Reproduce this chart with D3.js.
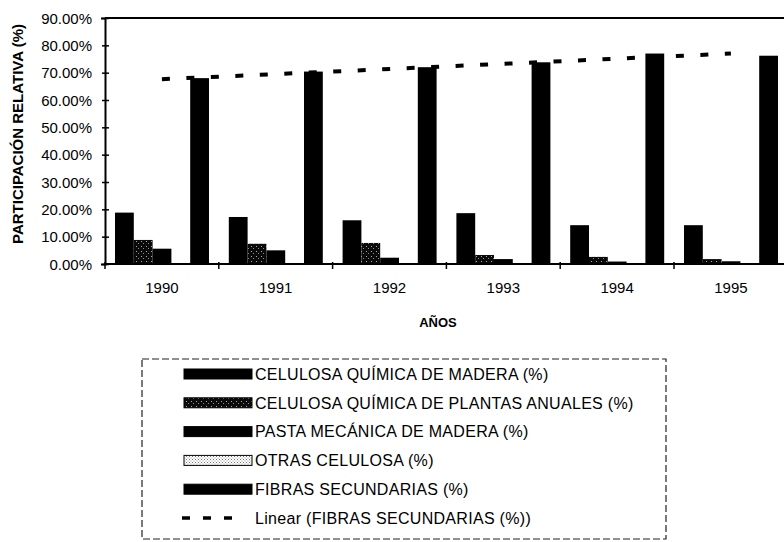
<!DOCTYPE html>
<html>
<head>
<meta charset="utf-8">
<script src="https://cdn.jsdelivr.net/npm/d3@7"></script>
<style>
  body { margin: 0; background: #fff; }
  svg { display: block; font-family: Arial, "Liberation Sans", sans-serif; }
</style>
</head>
<body>
<div id="chart"></div>
<script>
// data (percent)
const years = ['1990', '1991', '1992', '1993', '1994', '1995']
const celulosaMadera = [18.8, 17.2, 16.0, 18.6, 14.2, 14.2]
const celulosaAnuales = [8.8, 7.4, 7.7, 3.3, 2.6, 1.8]
const pastaMecanica = [5.6, 5.0, 2.3, 1.8, 0.9, 1.0]
const otrasCelulosa = [0.4, 0.4, 0.4, 0.4, 0.4, 0.4]
const fibrasSecundarias = [68.0, 70.4, 72.0, 73.8, 77.0, 76.2]
// linear trend line end points (first and last year)
const trendYears = ['1990', '1995']
const trendValues = [67.6, 77.0]
const yTicks = [0, 10, 20, 30, 40, 50, 60, 70, 80, 90]

const seriesNames = [
   'CELULOSA QUÍMICA DE MADERA (%)',
   'CELULOSA QUÍMICA DE PLANTAS ANUALES (%)',
   'PASTA MECÁNICA DE MADERA (%)',
   'OTRAS CELULOSA (%)',
   'FIBRAS SECUNDARIAS (%)'
]
const trendName = 'Linear (FIBRAS SECUNDARIAS (%))'
const seriesValues = [celulosaMadera, celulosaAnuales, pastaMecanica, otrasCelulosa, fibrasSecundarias]
const seriesFill = ['#000', 'url(#patAnuales)', '#000', 'url(#patOtras)', '#000']

const W = 784, H = 542
const plotLeft = 105, bandW = 113.8, plotTop = 18, plotBottom = 264

const svg = d3.select('#chart').append('svg')
   .attr('width', W)
   .attr('height', H)

// fill patterns
const defs = svg.append('defs')
const p1 = defs.append('pattern').attr('id', 'patAnuales')
   .attr('patternUnits', 'userSpaceOnUse').attr('width', 5).attr('height', 5)
p1.append('rect').attr('width', 5).attr('height', 5).attr('fill', '#0a0a0a')
p1.append('rect').attr('x', 1).attr('y', 1).attr('width', 1).attr('height', 1).attr('fill', '#aaa')
p1.append('rect').attr('x', 3).attr('y', 3).attr('width', 1).attr('height', 1).attr('fill', '#888')
const p2 = defs.append('pattern').attr('id', 'patOtras')
   .attr('patternUnits', 'userSpaceOnUse').attr('width', 3).attr('height', 3)
p2.append('rect').attr('width', 3).attr('height', 3).attr('fill', '#fff')
p2.append('rect').attr('x', 0).attr('y', 0).attr('width', 1).attr('height', 1).attr('fill', '#777')
p2.append('rect').attr('x', 1.5).attr('y', 1.5).attr('width', 1).attr('height', 1).attr('fill', '#999')

// scales
const x0 = d3.scaleBand()
   .domain(years)
   .range([plotLeft, plotLeft + bandW * years.length])
const x1 = d3.scaleBand()
   .domain(d3.range(seriesNames.length))
   .range([10, 104])
const y = d3.scaleLinear()
   .domain([0, 90])
   .range([plotBottom, plotTop])

// bars
seriesValues.forEach((vals, s) => {
   svg.append('g').selectAll('rect')
      .data(vals)
      .enter().append('rect')
         .attr('x', (d, i) => x0(years[i]) + x1(s))
         .attr('y', d => y(d))
         .attr('width', x1.bandwidth())
         .attr('height', d => y(0) - y(d))
         .attr('fill', seriesFill[s])
})

// frame: top border, left and bottom axes
const xEnd = x0.range()[1]
svg.append('line').attr('x1', plotLeft).attr('x2', xEnd)
   .attr('y1', y(90)).attr('y2', y(90)).attr('stroke', '#000').attr('stroke-width', 2)

// left axis with ticks crossing the line
svg.append('g')
   .attr('transform', 'translate(' + plotLeft + ',0)')
   .call(d3.axisLeft(y).tickValues(yTicks).tickSize(4).tickFormat(d => d3.format('.2f')(d) + '%'))
   .call(g => g.select('.domain').attr('stroke-width', 2))
   .call(g => g.selectAll('.tick line').attr('x2', 4).attr('x1', -3).attr('stroke-width', 1.5))
   .call(g => g.selectAll('.tick text')
      .attr('x', -13)
      .attr('dy', '0.35em')
      .style('font-size', '15px')
      .style('font-family', 'Arial, "Liberation Sans", sans-serif')
      .attr('fill', '#000'))

// bottom axis, ticks at band edges
const bottom = svg.append('g')
bottom.append('line').attr('x1', plotLeft).attr('x2', xEnd)
   .attr('y1', y(0)).attr('y2', y(0)).attr('stroke', '#000').attr('stroke-width', 2)
bottom.selectAll('.xt')
   .data(years)
   .enter().append('line')
      .attr('x1', d => x0(d)).attr('x2', d => x0(d))
      .attr('y1', y(0) - 2).attr('y2', y(0) + 5)
      .attr('stroke', '#000').attr('stroke-width', 1.5)
bottom.selectAll('.xl')
   .data(years)
   .enter().append('text')
      .attr('x', d => x0(d) + x0.bandwidth() / 2)
      .attr('y', 293)
      .attr('text-anchor', 'middle')
      .style('font-size', '15px')
      .text(d => d)

// linear trend line
svg.append('line')
   .attr('x1', x0(trendYears[0]) + x0.bandwidth() / 2)
   .attr('x2', x0(trendYears[1]) + x0.bandwidth() / 2)
   .attr('y1', y(trendValues[0]))
   .attr('y2', y(trendValues[1]))
   .attr('stroke', '#000')
   .attr('stroke-width', 4)
   .attr('stroke-dasharray', '8,16.5')

// axis titles
svg.append('text')
   .attr('transform', 'translate(23,134) rotate(-90)')
   .attr('text-anchor', 'middle')
   .style('font-size', '15px')
   .style('font-weight', 'bold')
   .text('PARTICIPACIÓN RELATIVA (%)')

svg.append('text')
   .attr('x', 438)
   .attr('y', 327)
   .attr('text-anchor', 'middle')
   .style('font-size', '13px')
   .style('font-weight', 'bold')
   .text('AÑOS')

// legend
const legend = svg.append('g')
legend.append('rect')
   .attr('x', 142).attr('y', 359)
   .attr('width', 524).attr('height', 180)
   .attr('fill', 'none')
   .attr('stroke', '#222')
   .attr('stroke-width', 1.2)
   .attr('stroke-dasharray', '7,3')

const rowY = i => 374 + i * 28.8
seriesNames.forEach((name, s) => {
   legend.append('rect')
      .attr('x', 184).attr('y', rowY(s) - 5)
      .attr('width', 68).attr('height', 10)
      .attr('fill', seriesFill[s])
      .attr('stroke', '#000')
      .attr('stroke-width', 1)
   legend.append('text')
      .attr('x', 255).attr('y', rowY(s))
      .attr('dy', '0.36em')
      .style('font-size', '16px')
      .style('letter-spacing', '0.3px')
      .text(name)
})
legend.append('line')
   .attr('x1', 182).attr('x2', 236)
   .attr('y1', rowY(5)).attr('y2', rowY(5))
   .attr('stroke', '#000')
   .attr('stroke-width', 3.5)
   .attr('stroke-dasharray', '8,13')
legend.append('text')
   .attr('x', 255).attr('y', rowY(5))
   .attr('dy', '0.36em')
   .style('font-size', '16px')
   .style('letter-spacing', '0.3px')
   .text(trendName)
</script>
</body>
</html>
